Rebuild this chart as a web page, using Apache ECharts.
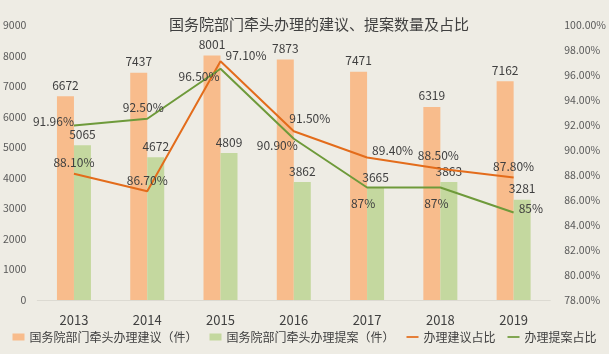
<!DOCTYPE html>
<html>
<head>
<meta charset="utf-8">
<script src="https://cdn.jsdelivr.net/npm/echarts@6/dist/echarts.min.js"></script>
<style>
html, body { margin: 0; padding: 0; background: #eeece4; }
#chart { width: 609px; height: 354px; }
</style>
</head>
<body>
<div id="chart"></div>
<script>
const years = ['2013', '2014', '2015', '2016', '2017', '2018', '2019'];
const proposals = [6672, 7437, 8001, 7873, 7471, 6319, 7162];
const motions = [5065, 4672, 4809, 3862, 3665, 3863, 3281];
const proposalRate = [88.1, 86.7, 97.1, 91.5, 89.4, 88.5, 87.8];
const motionRate = [91.96, 92.5, 96.5, 90.9, 87, 87, 85];
const motionRateText = ['91.96%', '92.50%', '96.50%', '90.90%', '87%', '87%', '85%'];

const font = '"Noto Sans CJK SC", sans-serif';
const labelColor = '#404040';
const lineIcon = 'path://M0,0L14,0L14,2L0,2Z';

// 折线标签的摆放位置
const proposalLabelPos = [
    ['top', [0, 0]], ['top', [0, 0]], ['right', [0, -6]], ['top', [16, -2]],
    ['right', [0, -7]], ['top', [-2, -2]], ['top', [0, 0]]
];
const motionLabelPos = [
    ['left', [5, -4]], ['top', [-4, 0]], ['left', [4, 8]], ['left', [9, 7]],
    ['bottom', [-4, 5]], ['bottom', [-4, 5]], ['right', [0, -4]]
];

const chart = echarts.init(document.getElementById('chart'));

const option = {
    backgroundColor: '#eeece4',
    textStyle: { fontFamily: font },
    title: {
        text: '国务院部门牵头办理的建议、提案数量及占比',
        left: 164,
        top: 12,
        textStyle: { fontSize: 15, fontWeight: 'normal', color: labelColor, fontFamily: font }
    },
    legend: {
        bottom: 6,
        left: 'center',
        itemWidth: 12,
        itemHeight: 7,
        itemGap: 12,
        symbolKeepAspect: true,
        textStyle: { fontSize: 12, color: '#404040', fontFamily: font },
        data: [
            { name: '国务院部门牵头办理建议（件）', icon: 'rect' },
            { name: '国务院部门牵头办理提案（件）', icon: 'rect' },
            { name: '办理建议占比', icon: lineIcon },
            { name: '办理提案占比', icon: lineIcon }
        ]
    },
    grid: { left: 35, right: 53, top: 25, bottom: 54 },
    xAxis: {
        type: 'category',
        data: years,
        axisTick: { show: false },
        axisLine: { lineStyle: { color: '#dcdad2' } },
        axisLabel: { color: labelColor, fontSize: 13, margin: 14, fontFamily: font }
    },
    yAxis: [{
        type: 'value',
        min: 0,
        max: 9000,
        interval: 1000,
        splitLine: { show: false },
        axisLabel: { color: '#595959', fontSize: 10.5, margin: 11, fontFamily: font, formatter: v => String(v) }
    }, {
        type: 'value',
        min: 78,
        max: 100,
        interval: 2,
        splitLine: { show: false },
        axisLabel: {
            color: '#595959', fontSize: 10.5, margin: 14, fontFamily: font,
            formatter: v => v.toFixed(2) + '%'
        }
    }],
    series: [{
        name: '国务院部门牵头办理建议（件）',
        type: 'bar',
        data: proposals,
        barWidth: 17,
        barGap: '0%',
        itemStyle: { color: '#f8bc8c' },
        label: { show: true, position: 'top', color: labelColor, fontSize: 12, fontFamily: font }
    }, {
        name: '国务院部门牵头办理提案（件）',
        type: 'bar',
        data: motions,
        barWidth: 17,
        itemStyle: { color: '#c4d89f' },
        label: { show: true, position: 'top', color: labelColor, fontSize: 12, fontFamily: font }
    }, {
        name: '办理建议占比',
        type: 'line',
        yAxisIndex: 1,
        symbol: 'circle',
        symbolSize: 0,
        showSymbol: true,
        z: 5,
        lineStyle: { color: '#e36c1b', width: 2 },
        itemStyle: { color: '#e36c1b' },
        data: proposalRate.map((v, i) => ({
            value: v,
            label: {
                show: true,
                position: proposalLabelPos[i][0],
                offset: proposalLabelPos[i][1],
                formatter: v.toFixed(2) + '%',
                color: labelColor, fontSize: 12, fontFamily: font
            }
        }))
    }, {
        name: '办理提案占比',
        type: 'line',
        yAxisIndex: 1,
        symbol: 'circle',
        symbolSize: 0,
        showSymbol: true,
        z: 5,
        lineStyle: { color: '#6e9a3a', width: 2 },
        itemStyle: { color: '#6e9a3a' },
        data: motionRate.map((v, i) => ({
            value: v,
            label: {
                show: true,
                position: motionLabelPos[i][0],
                offset: motionLabelPos[i][1],
                formatter: motionRateText[i],
                color: labelColor, fontSize: 12, fontFamily: font
            }
        }))
    }]
};

chart.setOption(option);
</script>
</body>
</html>
